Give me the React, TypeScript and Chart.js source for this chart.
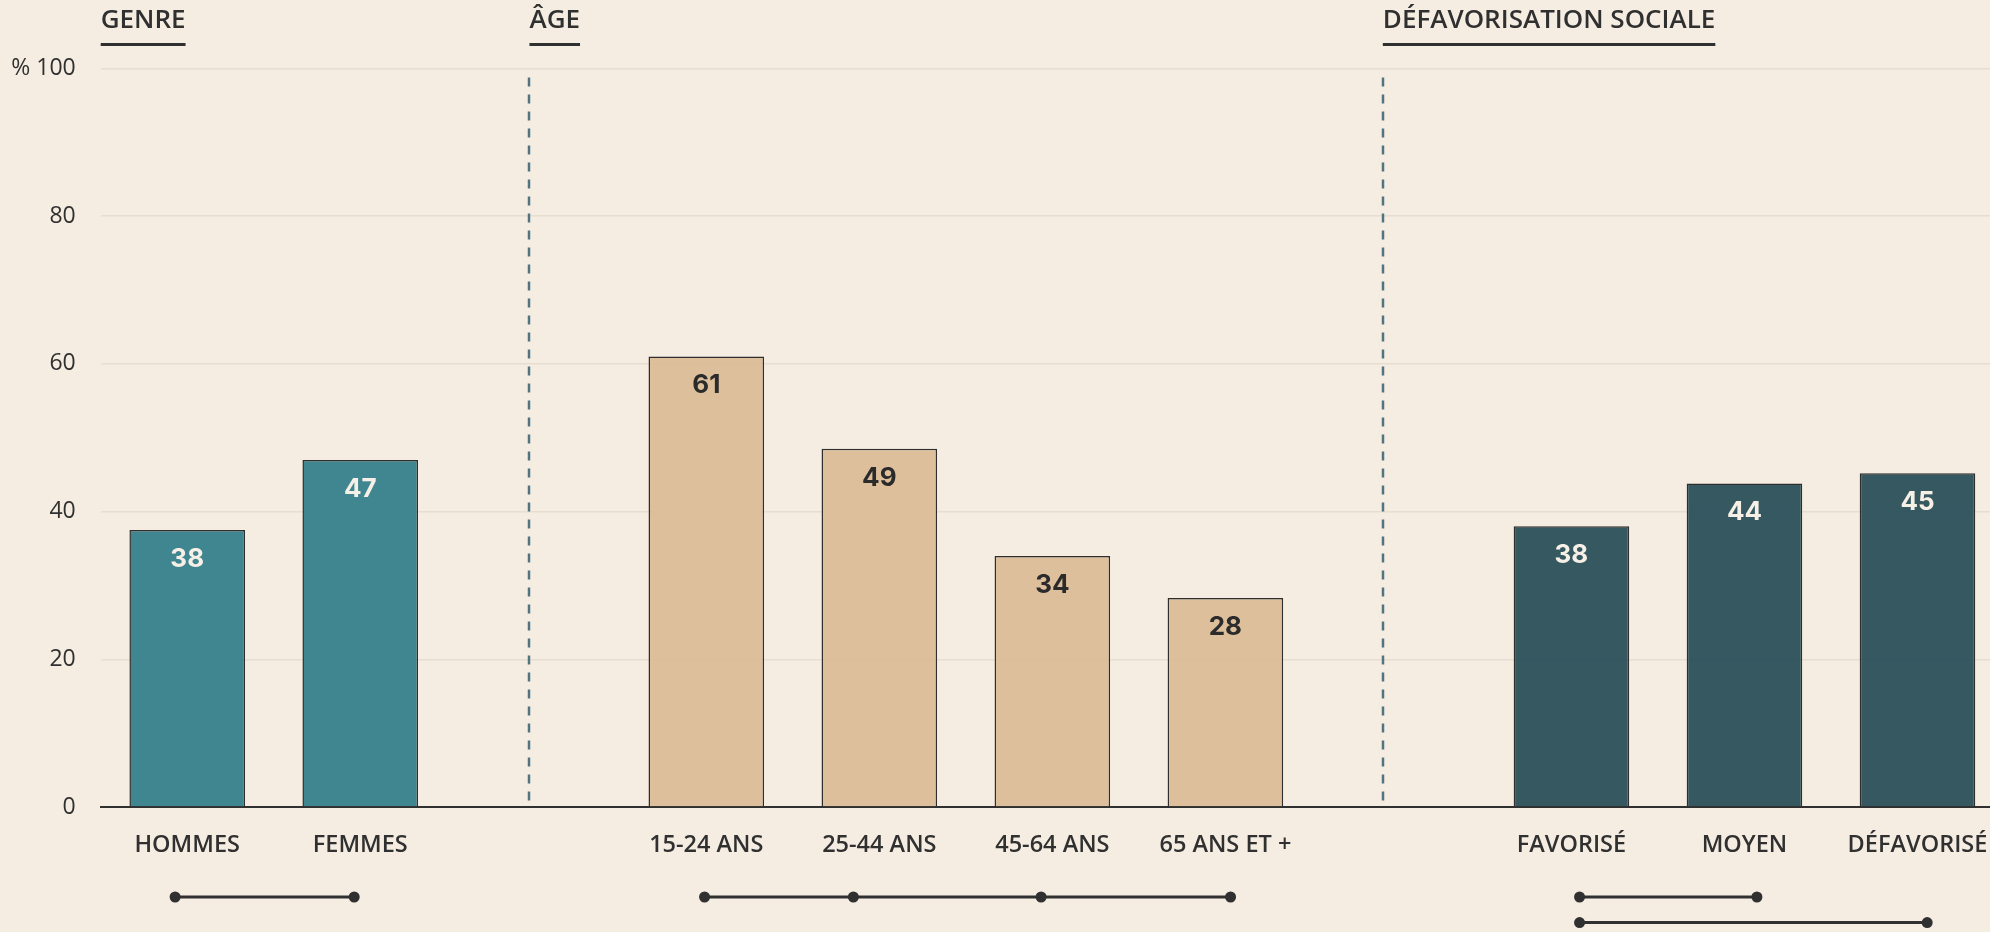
import React, { useEffect, useRef } from 'react';
import { Chart, registerables } from 'chart.js';

Chart.register(...registerables);

// ---- Data ----
const categories = ['HOMMES', 'FEMMES', '', '15-24 ANS', '25-44 ANS', '45-64 ANS', '65 ANS ET +', '', 'FAVORISÉ', 'MOYEN', 'DÉFAVORISÉ'];
const values: (number | null)[] = [37.5, 47, null, 61, 48.5, 34, 28.3, null, 38, 43.8, 45.2];
const valueLabels = ['38', '47', '', '61', '49', '34', '28', '', '38', '44', '45'];
const groups = ['genre', 'genre', '', 'age', 'age', 'age', 'age', '', 'socio', 'socio', 'socio'];
const yTickValues = [0, 20, 40, 60, 80, 100];

// Section headers (title + category-axis position where it starts)
const sectionTitles = ['GENRE', 'ÂGE', 'DÉFAVORISATION SOCIALE'];
const sectionStarts = [-0.5, 1.978, 6.91];
// Dashed separators (category-axis positions)
const dividers = [1.978, 6.91];
// Comparison connectors below the axis (category-axis positions, row)
const connectorPoints = [
  [-0.07, 0.965],
  [2.99, 3.85, 4.935, 6.03],
  [8.047, 9.072],
  [8.047, 10.056],
];
const connectorRows = [0, 0, 0, 1];

// ---- Styles ----
const BG = '#f5ede2';
const INK = '#303030';
const groupFill: Record<string, string> = {
  genre: 'rgba(58,130,142,0.97)',
  age: 'rgba(220,189,153,0.97)',
  socio: 'rgba(46,83,93,0.97)',
};
const groupLabel: Record<string, string> = {
  genre: '#f7f0e6',
  age: '#2b2b2b',
  socio: '#f7f0e6',
};
const FONT = '"Open Sans", "Noto Sans", sans-serif';

const overlayPlugin = {
  id: 'overlay',
  afterDatasetsDraw(chart: any) {
    const { ctx } = chart;
    const meta = chart.getDatasetMeta(0);
    ctx.save();
    ctx.font = 'bold 26px Inter, "Liberation Sans", sans-serif';
    ctx.textAlign = 'center';
    ctx.textBaseline = 'middle';
    meta.data.forEach((bar: any, i: number) => {
      if (values[i] == null) return;
      ctx.fillStyle = groupLabel[groups[i]];
      ctx.fillText(valueLabels[i], bar.x, bar.y + 29);
    });
    ctx.restore();
  },
  afterDraw(chart: any) {
    const { ctx, chartArea } = chart;
    const x = chart.scales.x;
    const y = chart.scales.y;
    ctx.save();
    // dashed dividers
    ctx.strokeStyle = '#527380';
    ctx.lineWidth = 2.5;
    ctx.setLineDash([9, 8]);
    dividers.forEach((d) => {
      const px = Math.round(x.getPixelForValue(d));
      ctx.beginPath();
      ctx.moveTo(px, chartArea.top + 9);
      ctx.lineTo(px, y.getPixelForValue(0) - 2);
      ctx.stroke();
    });
    ctx.setLineDash([]);
    // section headers
    ctx.font = `600 26px ${FONT}`;
    ctx.textAlign = 'left';
    ctx.textBaseline = 'middle';
    ctx.fillStyle = INK;
    sectionTitles.forEach((t, i) => {
      const px = x.getPixelForValue(sectionStarts[i]);
      ctx.fillText(t, px, 21);
      const w = ctx.measureText(t).width;
      ctx.fillRect(px, 43, w, 3);
    });
    // connectors
    ctx.strokeStyle = INK;
    ctx.fillStyle = INK;
    ctx.lineWidth = 3;
    const base = y.getPixelForValue(0);
    connectorPoints.forEach((pts, k) => {
      const py = base + 90 + connectorRows[k] * 25.6;
      const xs = pts.map((p) => x.getPixelForValue(p));
      ctx.beginPath();
      ctx.moveTo(xs[0], py);
      ctx.lineTo(xs[xs.length - 1], py);
      ctx.stroke();
      xs.forEach((px) => {
        ctx.beginPath();
        ctx.arc(px, py, 5.5, 0, Math.PI * 2);
        ctx.fill();
      });
    });
    ctx.restore();
  },
};

export default function App() {
  const ref = useRef<HTMLCanvasElement>(null);
  useEffect(() => {
    if (!ref.current) return;
    const chart = new Chart(ref.current, {
      type: 'bar',
      data: {
        labels: categories,
        datasets: [
          {
            data: values as any,
            backgroundColor: groups.map((g) => groupFill[g] || 'transparent'),
            borderColor: '#2e2e2e',
            borderWidth: 1.5,
            borderSkipped: 'bottom',
            categoryPercentage: 1,
            barPercentage: 0.668,
          },
        ],
      },
      options: {
        responsive: false,
        animation: false,
        devicePixelRatio: 1,
        layout: { padding: { top: 68.5, left: 0, right: 0, bottom: 0 } },
        plugins: { legend: { display: false }, tooltip: { enabled: false } },
        scales: {
          x: {
            grid: { display: false, drawTicks: false },
            border: { display: true, color: INK, width: 2 },
            ticks: {
              color: INK,
              font: { family: FONT, size: 23.5, weight: '600' as any },
              padding: 24,
              autoSkip: false,
              maxRotation: 0,
            },
            afterFit(scale: any) {
              scale.height = 932 - 807;
              scale.paddingLeft = 0;
              scale.paddingRight = 0;
            },
          },
          y: {
            min: 0,
            max: 100,
            afterBuildTicks(scale: any) {
              scale.ticks = yTickValues.map((v) => ({ value: v }));
            },
            grid: {
              color: (c: any) => (c.tick && c.tick.value === 0 ? 'rgba(0,0,0,0)' : '#e7ddd0'),
              lineWidth: 1.5,
              drawTicks: false,
            },
            border: { display: false },
            ticks: {
              color: INK,
              font: { family: FONT, size: 23, weight: '400' as any },
              padding: 25,
              callback: (v: any) => (v === 100 ? '% 100' : String(v)),
            },
            afterFit(scale: any) {
              scale.width = 100.7;
            },
          },
        },
      },
      plugins: [overlayPlugin],
    });
    return () => chart.destroy();
  }, []);

  return (
    <div style={{ position: 'fixed', inset: 0, overflow: 'hidden', background: BG }}>
      <canvas
        ref={ref}
        width={2004}
        height={932}
        style={{ position: 'absolute', left: 0, top: 0, width: 2004, height: 932 }}
      />
    </div>
  );
}
